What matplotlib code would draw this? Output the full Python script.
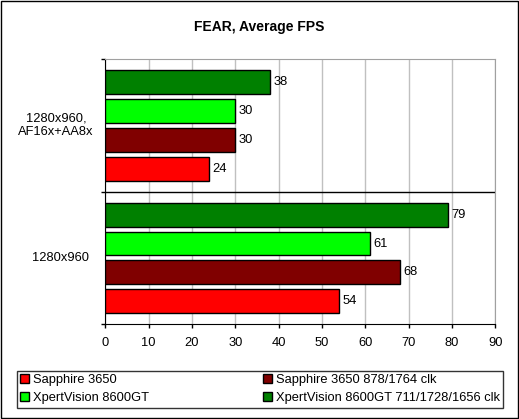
import numpy as np
import matplotlib
matplotlib.use("Agg")
import matplotlib.pyplot as plt
from matplotlib.patches import Rectangle

# data
categories = ["1280x960", "1280x960,\nAF16x+AA8x"]
series_names = ["Sapphire 3650",
                "Sapphire 3650 878/1764 clk",
                "XpertVision 8600GT",
                "XpertVision 8600GT 711/1728/1656 clk"]
sapphire = [54, 24]
sapphire_oc = [68, 30]
xpert = [61, 30]
xpert_oc = [79, 38]
colors = ["#ff0000", "#800000", "#00ff00", "#008000"]
xticks = list(range(0, 91, 10))

plt.rcParams['font.family'] = ['Liberation Sans', 'DejaVu Sans']

W, H = 519, 419
fig = plt.figure(figsize=(W / 100, H / 100), dpi=100)

# plot area in pixels
left, right, top, bottom = 105.3, 495.3, 59.0, 324.3
ax = fig.add_axes([left / W, 1 - bottom / H, (right - left) / W, (bottom - top) / H])

y = np.arange(len(categories))
bar_h = 0.18
step = 0.218
offsets = (np.arange(4) - 1.5) * step
all_vals = [sapphire, sapphire_oc, xpert, xpert_oc]
bars = []
for i, vals in enumerate(all_vals):
    b = ax.barh(y + offsets[i], vals, height=bar_h, color=colors[i],
                edgecolor="black", linewidth=1.0, label=series_names[i], zorder=3)
    bars.append(b)
    for yy, v in zip(y + offsets[i], vals):
        ax.text(v + 0.8, yy, str(v), va="center", ha="left", fontsize=9.3)

ax.set_xlim(0, 90)
ax.set_ylim(-0.5, 1.5)
ax.set_xticks(xticks)
ax.set_xticklabels([str(t) for t in xticks], fontsize=9.3)
ax.set_yticks([-0.5, 0.5, 1.5])
ax.set_yticklabels([])
ax.tick_params(axis="x", length=3, width=1, pad=6, direction="out")
ax.tick_params(axis="y", length=3, width=1, direction="out")
ax.xaxis.grid(True, color="#c0c0c0", linewidth=1, zorder=0)
ax.axhline(0.5, color="black", linewidth=1, zorder=2)
ax.text(-0.115, 0.0, categories[0], transform=ax.get_yaxis_transform(),
        ha="center", va="center", fontsize=9.3)
ax.text(-0.126, 1.0, categories[1], transform=ax.get_yaxis_transform(),
        ha="center", va="center", fontsize=9.3, multialignment="center", linespacing=1.2)

for s in ["top", "right"]:
    ax.spines[s].set_color("#a0a0a0")
for s in ["left", "bottom"]:
    ax.spines[s].set_color("black")

fig.text(0.5, 1 - 27 / H, "FEAR, Average FPS", ha="center", va="center",
         fontsize=10, fontweight="bold")

# legend box 17..503 x 367..411, row-major order
order = [0, 2, 1, 3]
lx0, lx1, ly0, ly1 = 17, 503, 367, 411
leg = fig.legend(handles=[bars[i] for i in order], labels=[series_names[i] for i in order],
                 ncol=2,
                 bbox_to_anchor=(lx0 / W, 1 - ly1 / H, (lx1 - lx0) / W, (ly1 - ly0) / H),
                 loc="center", mode="expand", fontsize=9.3, frameon=True, fancybox=False,
                 handlelength=0.7, handleheight=0.7, handletextpad=0.3,
                 borderaxespad=0, borderpad=0.25, labelspacing=0.5)
leg.get_frame().set_edgecolor("black")
leg.get_frame().set_linewidth(1)
for p in leg.get_patches():
    p.set_linewidth(1)

fig.patches.append(Rectangle((0.5 / W, 1.5 / H), 517 / W, 416 / H, transform=fig.transFigure,
                             fill=False, edgecolor="black", linewidth=1))

fig.savefig("out.png", dpi=100)
